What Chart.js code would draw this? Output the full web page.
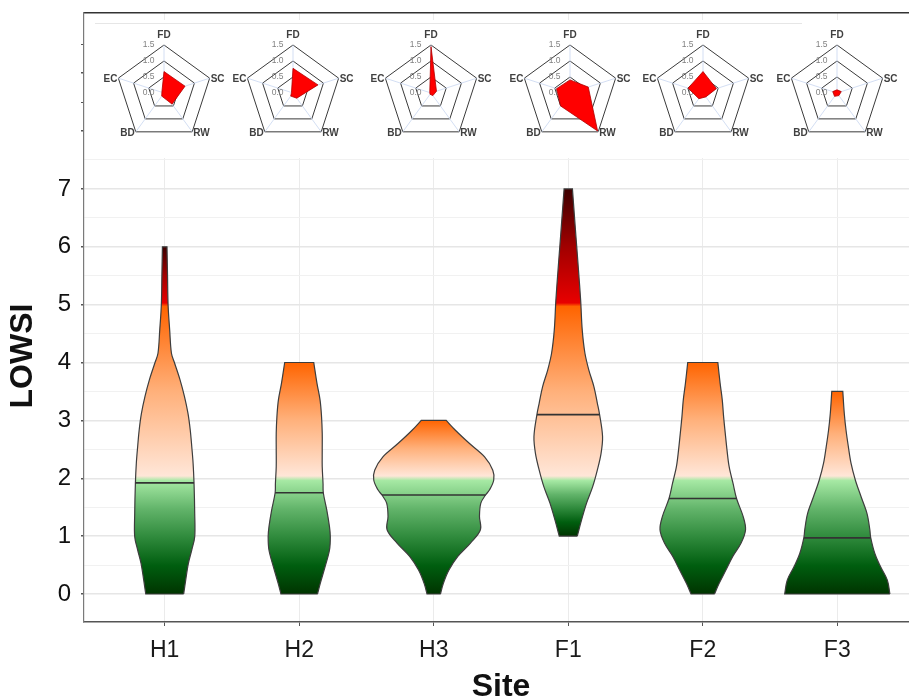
<!DOCTYPE html>
<html>
<head>
<meta charset="utf-8">
<script src="https://cdn.jsdelivr.net/npm/chart.js@4.4.0/dist/chart.umd.min.js"></script>
<style>
  body { margin: 0; background: #fff; }
  #frame { position: relative; width: 909px; height: 699px; overflow: hidden; }
  #main { position: absolute; left: 0; top: 0; }
  #inset { position: absolute; left: 86px; top: 20px; width: 823px; height: 138px; background: #fff; }
  #inset .rule { position: absolute; left: 9px; top: 3px; width: 707px; height: 1px; background: #e6e6e6; }
  .radar { position: absolute; }
</style>
</head>
<body>
<div id="frame">
  <canvas id="main" width="940" height="720"></canvas>
  <div id="inset"><div class="rule"></div></div>
</div>
<script>
// Sites and axis ticks
const sites = ['H1', 'H2', 'H3', 'F1', 'F2', 'F3'];
const yTicks = [0, 1, 2, 3, 4, 5, 6, 7];
const yMinor = [0.5, 1.5, 2.5, 3.5, 4.5, 5.5, 6.5, 7.5];
const yInsetTicks = [8, 8.5, 9, 9.5];

// Violin outlines: LOWSI level and half width (in site units) at that level
const h1Levels = [0, 0.24, 0.53, 0.76, 0.99, 1.39, 1.91, 2.26, 2.55, 2.83, 3.12, 3.41, 3.70, 4.0, 4.16, 4.56, 5.0, 5.5, 6.0];
const h1Widths = [0.141, 0.156, 0.176, 0.201, 0.223, 0.223, 0.218, 0.211, 0.201, 0.190, 0.173, 0.147, 0.114, 0.072, 0.050, 0.037, 0.025, 0.021, 0.017];
const h2Levels = [0, 0.18, 0.47, 0.76, 0.99, 1.16, 1.45, 1.75, 1.91, 2.2, 2.49, 2.78, 3.06, 3.35, 3.64, 4.0];
const h2Widths = [0.136, 0.156, 0.192, 0.225, 0.231, 0.225, 0.205, 0.179, 0.177, 0.171, 0.171, 0.171, 0.166, 0.155, 0.132, 0.108];
const h3Levels = [0, 0.18, 0.41, 0.65, 0.88, 1.11, 1.34, 1.57, 1.71, 1.8, 1.97, 2.14, 2.37, 2.6, 2.83, 3.0];
const h3Widths = [0.050, 0.071, 0.112, 0.179, 0.273, 0.347, 0.340, 0.350, 0.385, 0.415, 0.446, 0.439, 0.378, 0.266, 0.161, 0.093];
const f1Levels = [1.0, 1.28, 1.57, 1.85, 2.14, 2.43, 2.72, 3.1, 3.3, 3.58, 3.87, 4.16, 4.56, 5.08, 5.6, 6.18, 7.0];
const f1Widths = [0.067, 0.099, 0.136, 0.181, 0.216, 0.244, 0.255, 0.233, 0.216, 0.191, 0.153, 0.124, 0.104, 0.092, 0.076, 0.057, 0.031];
const f2Levels = [0, 0.18, 0.41, 0.65, 0.88, 1.11, 1.34, 1.65, 1.91, 2.2, 2.49, 2.78, 3.06, 3.35, 3.64, 4.0];
const f2Widths = [0.087, 0.121, 0.171, 0.223, 0.285, 0.318, 0.300, 0.251, 0.225, 0.196, 0.180, 0.167, 0.155, 0.145, 0.129, 0.112];
const f3Levels = [0, 0.24, 0.47, 0.7, 0.98, 1.11, 1.39, 1.68, 1.97, 2.26, 2.55, 2.83, 3.12, 3.5];
const f3Widths = [0.391, 0.372, 0.322, 0.279, 0.248, 0.242, 0.221, 0.177, 0.134, 0.102, 0.082, 0.065, 0.052, 0.041];

// Medians and the violin half width at the median
const medians = [1.92, 1.75, 1.71, 3.1, 1.65, 0.97];
const medianWidths = [0.218, 0.179, 0.385, 0.233, 0.251, 0.248];

// Radar insets (0 - 1.5)
const radarAxes = ['FD', 'SC', 'RW', 'BD', 'EC'];
const radarTicks = [0, 0.5, 1, 1.5];
const radarH1 = [0.67, 0.69, 0.43, 0.12, 0.07];
const radarH2 = [0.77, 0.82, 0.20, 0.12, 0.05];
const radarH3 = [1.45, 0.18, 0.10, 0.05, 0.04];
const radarF1 = [0.41, 0.60, 1.47, 0.50, 0.44];
const radarF2 = [0.67, 0.44, 0.15, 0.22, 0.49];
const radarF3 = [0.10, 0.14, 0.10, 0.13, 0.14];

const violins = [[h1Levels, h1Widths], [h2Levels, h2Widths], [h3Levels, h3Widths],
                 [f1Levels, f1Widths], [f2Levels, f2Widths], [f3Levels, f3Widths]];
const radars = [radarH1, radarH2, radarH3, radarF1, radarF2, radarF3];
const radarCenters = [164, 293, 431, 570, 703, 837];

Chart.defaults.font.family = "'Liberation Sans', Arial, sans-serif";

const greenRamp = ['#003400', '#005e0f', '#2f8a3c', '#62b46a', '#a6e9a4'];
const orangeRamp = ['#ffe6d8', '#ffb07a', '#ff6400'];
const redRamp = ['#e80000', '#a00000', '#3d0000'];

function outline(c, levels, widths) {
    const n = levels.length;
    const right = levels.map((v, k) => ({x: c + widths[k], y: v}));
    const left = levels.map((v, k) => ({x: c - widths[k], y: v})).reverse();
    // doubled corner points keep the flat top and bottom straight
    return [right[0], ...right, right[n - 1], left[0], ...left, left[n - 1], right[0]];
}

function bandStops(lo, hi) {
    const stops = [];
    const mix = (a, b, t) => a + (b - a) * t;
    const ramp = (cols, a, b) => cols.forEach((c, k) => stops.push([mix(a, b, k / (cols.length - 1)), c]));
    if (lo < 2) ramp(greenRamp, lo, Math.min(2, hi) - (hi > 2 ? 0.04 : 0));
    if (hi > 2) ramp(orangeRamp, Math.max(2, lo) + (lo < 2 ? 0.04 : 0), Math.min(5, hi) - (hi > 5 ? 0.03 : 0));
    if (hi > 5) ramp(redRamp, 5.03, hi);
    return stops;
}

const violinFill = {
    id: 'violinFill',
    beforeDatasetsDraw(chart) {
        const {ctx, chartArea, scales: {y}} = chart;
        chart.data.datasets.forEach((ds, i) => {
            if (!ds.levels) return;
            const line = chart.getDatasetMeta(i).dataset;
            line.updateControlPoints(chartArea, 'x');
            const lo = ds.levels[0], hi = ds.levels[ds.levels.length - 1];
            const g = ctx.createLinearGradient(0, y.getPixelForValue(lo), 0, y.getPixelForValue(hi));
            bandStops(lo, hi).forEach(([v, col]) => g.addColorStop(Math.min(1, Math.max(0, (v - lo) / (hi - lo))), col));
            ctx.save();
            ctx.beginPath();
            line.path(ctx);
            ctx.closePath();
            ctx.fillStyle = g;
            ctx.fill();
            ctx.restore();
        });
    }
};

const yTitle = {
    id: 'yTitle',
    afterDraw(chart) {
        const ctx = chart.ctx;
        ctx.save();
        ctx.translate(23, 356);
        ctx.rotate(-Math.PI / 2);
        ctx.font = "bold 32px 'Liberation Sans', Arial, sans-serif";
        ctx.fillStyle = '#111';
        ctx.textAlign = 'center';
        ctx.textBaseline = 'middle';
        ctx.fillText('LOWSI', 0, 0);
        ctx.restore();
    }
};

// radar axis names sit right at the pentagon corners
const cornerLabels = {
    id: 'cornerLabels',
    afterDraw(chart) {
        const r = chart.scales.r;
        const ctx = chart.ctx;
        ctx.save();
        ctx.font = "bold 10px 'Liberation Sans', Arial, sans-serif";
        ctx.fillStyle = '#404040';
        ctx.textBaseline = 'middle';
        chart.data.labels.forEach((lab, i) => {
            const p = r.getPointPosition(i, r.drawingArea);
            const s = Math.sin(r.getIndexAngle(i));
            if (Math.abs(s) < 0.01) {
                ctx.textAlign = 'center';
                ctx.fillText(lab, p.x, p.y - 10);
            } else {
                ctx.textAlign = s > 0 ? 'left' : 'right';
                ctx.fillText(lab, p.x + (s > 0 ? 1 : -1), p.y + 1);
            }
        });
        ctx.restore();
    }
};

const datasets = [];
violins.forEach(([levels, widths], i) => {
    datasets.push({
        data: [{x: i + 1 - medianWidths[i], y: medians[i]}, {x: i + 1 + medianWidths[i], y: medians[i]}],
        showLine: true, borderColor: '#333333', borderWidth: 1.6, pointRadius: 0, order: 0
    });
    datasets.push({
        data: outline(i + 1, levels, widths), levels: levels,
        showLine: true, tension: 0.35, borderColor: '#3d3d3d', borderWidth: 1.2,
        pointRadius: 0, fill: false, order: 1
    });
});

const allYTicks = [...yTicks, ...yMinor, ...yInsetTicks].sort((a, b) => a - b);

new Chart(document.getElementById('main'), {
    type: 'scatter',
    data: {datasets: datasets},
    plugins: [violinFill, yTitle],
    options: {
        responsive: false,
        animation: false,
        events: [],
        layout: {padding: {top: 13, right: 22, left: 0, bottom: 0}},
        plugins: {legend: {display: false}, tooltip: {enabled: false}},
        scales: {
            x: {
                type: 'linear', min: 0.4, max: 6.6,
                afterBuildTicks: s => { s.ticks = sites.map((_, i) => ({value: i + 1})); },
                afterFit: s => { s.height = 98; s.paddingLeft = 0; s.paddingRight = 0; },
                grid: {color: '#ebebeb', lineWidth: 1, tickLength: 4, tickColor: '#555'},
                border: {color: '#555', width: 1.5},
                ticks: {callback: v => sites[Math.round(v) - 1], font: {size: 23}, color: '#1a1a1a',
                        padding: 11, maxRotation: 0, autoSkip: false},
                title: {display: true, text: 'Site', color: '#111', font: {size: 32, weight: 'bold'},
                        padding: {top: 0, bottom: 14}}
            },
            x2: {
                type: 'linear', position: 'top', min: 0.4, max: 6.6,
                afterFit: s => { s.height = 0; s.paddingLeft = 0; s.paddingRight = 0; },
                grid: {display: false, drawTicks: false},
                border: {color: '#333', width: 1.5},
                ticks: {display: false}
            },
            y: {
                min: -0.484, max: 10.04,
                afterBuildTicks: s => { s.ticks = allYTicks.map(v => ({value: v})); },
                afterFit: s => { s.width = 84; s.paddingTop = 0; s.paddingBottom = 0; },
                grid: {
                    color: c => c.tick.value > 7.5 ? 'rgba(0,0,0,0)' : (c.tick.value % 1 === 0 ? '#e6e6e6' : '#f1f1f1'),
                    lineWidth: c => c.tick.value % 1 === 0 ? 1.4 : 1,
                    tickLength: 3,
                    tickColor: c => (c.tick.value % 1 === 0 || c.tick.value >= 8) ? '#555' : 'rgba(0,0,0,0)'
                },
                border: {color: '#7a7a7a', width: 1.2},
                ticks: {callback: v => yTicks.includes(v) ? String(v) : '', font: {size: 24}, color: '#111', padding: 10}
            }
        }
    }
});

// Radar insets above each violin
const inset = document.getElementById('inset');
radars.forEach((vals, i) => {
    const cv = document.createElement('canvas');
    cv.width = 170;
    cv.height = 140;
    cv.className = 'radar';
    cv.style.left = (radarCenters[i] - 85 - 86) + 'px';
    cv.style.top = '3px';
    inset.appendChild(cv);
    new Chart(cv, {
        type: 'radar',
        data: {
            labels: radarAxes,
            datasets: [{data: vals, backgroundColor: '#ff0000', borderColor: '#b00000', borderWidth: 0.8, pointRadius: 0}]
        },
        plugins: [cornerLabels],
        options: {
            responsive: false,
            animation: false,
            events: [],
            layout: {padding: {top: 17, bottom: 17, left: 0, right: 0}},
            plugins: {legend: {display: false}, tooltip: {enabled: false}},
            scales: {
                r: {
                    min: -0.0001, max: 1.5,
                    afterBuildTicks: s => { s.ticks = radarTicks.map(v => ({value: v})); },
                    ticks: {showLabelBackdrop: false, backdropPadding: 0, color: '#808080', font: {size: 8.5},
                            callback: v => v.toFixed(1).padEnd(16, ' ')},
                    grid: {circular: false, color: '#3a3a3a', lineWidth: 1},
                    angleLines: {color: '#c8d5f0', lineWidth: 0.8},
                    pointLabels: {display: false}
                }
            }
        }
    });
});
</script>
</body>
</html>
